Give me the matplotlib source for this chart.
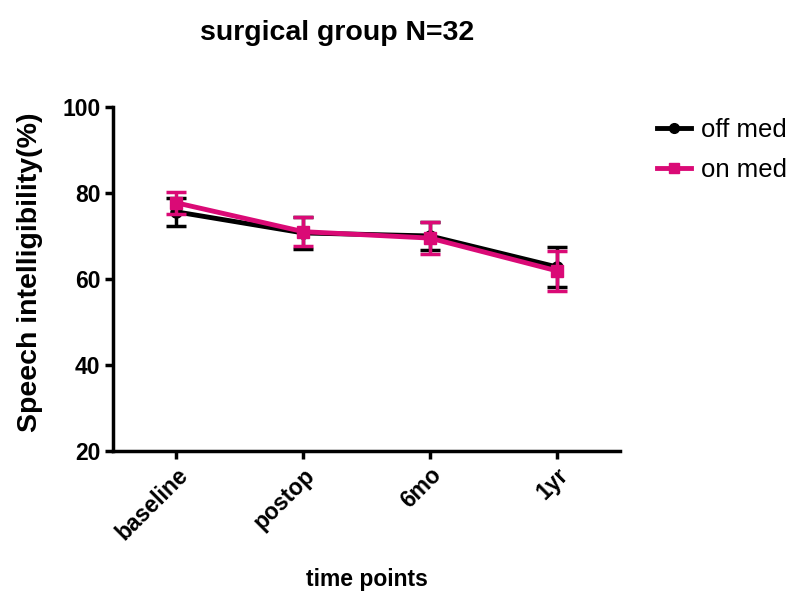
import matplotlib
matplotlib.use("Agg")
import matplotlib.pyplot as plt
from matplotlib.lines import Line2D

plt.rcParams['font.family'] = ['Liberation Sans', 'DejaVu Sans']

categories = ["baseline", "postop", "6mo", "1yr"]
off_med = [75.6, 70.7, 70.0, 62.8]
off_err = [3.3, 3.7, 3.3, 4.7]
on_med = [77.7, 71.0, 69.5, 61.9]
on_err = [2.5, 3.3, 3.7, 4.7]

black = 'black'
pink = '#DA0A76'

fig = plt.figure(figsize=(7.91, 5.91), dpi=100)
ax = fig.add_axes([0.143, 0.237, 0.641, 0.582])

x = list(range(len(categories)))
ax.errorbar(x, off_med, yerr=off_err, color=black, marker='o', markersize=8,
            linewidth=3.5, elinewidth=2.5, capsize=7, capthick=2.5, zorder=3)
ax.errorbar(x, on_med, yerr=on_err, color=pink, marker='s', markersize=8,
            linewidth=3.5, elinewidth=2.5, capsize=7, capthick=2.5, zorder=4)

ax.set_xlim(-0.5, 3.5)
ax.set_ylim(20, 100)
ax.set_yticks([20, 40, 60, 80, 100])
ax.set_xticks(x)
ax.set_xticklabels(categories, rotation=45, ha='right', rotation_mode='anchor')
for lbl in ax.get_xticklabels() + ax.get_yticklabels():
    lbl.set_fontweight('bold')
    lbl.set_fontsize(16.5)

for s in ['top', 'right']:
    ax.spines[s].set_visible(False)
for s in ['left', 'bottom']:
    ax.spines[s].set_linewidth(2.5)
ax.tick_params(axis='both', width=2.5, length=6, pad=3)

ax.set_ylabel('Speech intelligibility(%)', fontsize=20.5, fontweight='bold')
ax.yaxis.set_label_coords(-0.138, 0.52)
ax.set_xlabel('time points', fontsize=16.5, fontweight='bold', labelpad=17)
fig.text(0.426, 0.944, 'surgical group N=32', fontsize=20.5, fontweight='bold', ha='center', va='center')

handles = [Line2D([], [], color=black, marker='o', markersize=7, linewidth=3.5),
           Line2D([], [], color=pink, marker='s', markersize=7, linewidth=3.5)]
ax.legend(handles, ['off med', 'on med'], loc='upper left', bbox_to_anchor=(0.831, 0.80),
          bbox_transform=fig.transFigure, frameon=False, fontsize=18.5, handlelength=1.3,
          borderaxespad=0, labelspacing=0.6, handletextpad=0.4, borderpad=0)

fig.savefig('out.png', dpi=100)
